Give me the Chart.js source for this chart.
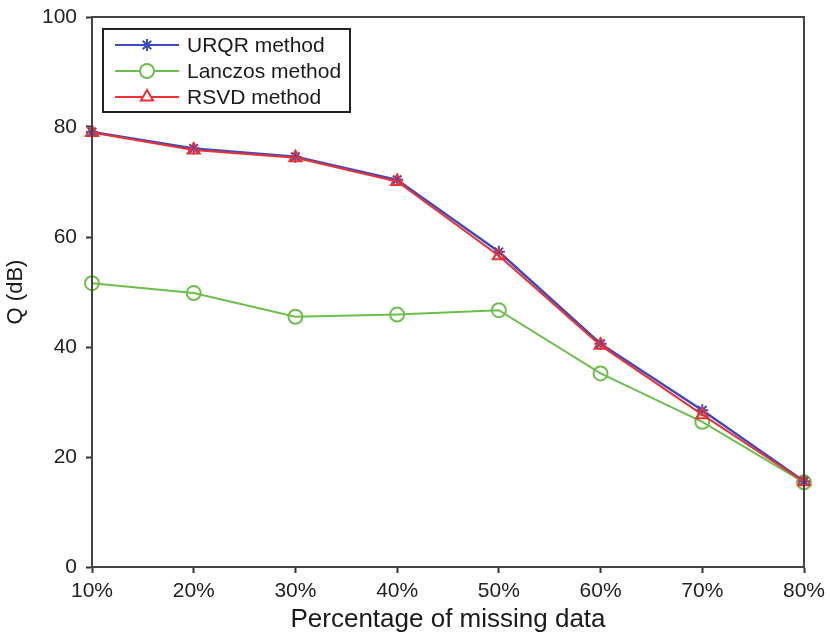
<!DOCTYPE html>
<html>
<head>
<meta charset="utf-8">
<script src="https://cdn.jsdelivr.net/npm/chart.js@4.4.1/dist/chart.umd.min.js"></script>
<style>
  html, body { margin: 0; padding: 0; background: #fff; }
  #wrap { width: 830px; height: 637px; }
</style>
</head>
<body>
<div id="wrap"><canvas id="chartCanva"></canvas></div>
<script>
// categories and series
const categories = ['10%', '20%', '30%', '40%', '50%', '60%', '70%', '80%'];
const urqrValues = [79.1, 76.1, 74.6, 70.4, 57.3, 40.6, 28.5, 15.6];
const lanczosValues = [51.6, 49.8, 45.5, 45.9, 46.7, 35.2, 26.4, 15.4];
const rsvdValues = [79.0, 75.8, 74.4, 70.1, 56.6, 40.3, 27.7, 15.5];
const yTicks = [0, 20, 40, 60, 80, 100];

const fontName = '"Liberation Sans", Arial, sans-serif';

// frame round the plot
const framePlugin = {
    id: 'frame',
    afterDraw(chart) {
        const a = chart.chartArea;
        const ctx = chart.ctx;
        ctx.save();
        ctx.strokeStyle = '#444';
        ctx.lineWidth = 2;
        ctx.strokeRect(a.left, a.top, a.right - a.left, a.bottom - a.top);
        ctx.restore();
    }
};

// boxed legend inside the plot, top left
const boxLegend = {
    id: 'boxLegend',
    afterDraw(chart) {
        const a = chart.chartArea;
        const ctx = chart.ctx;
        const x0 = a.left + 11, y0 = a.top + 12;
        ctx.save();
        ctx.fillStyle = '#fff';
        ctx.fillRect(x0, y0, 247, 83);
        ctx.strokeStyle = '#222';
        ctx.lineWidth = 2;
        ctx.strokeRect(x0, y0, 247, 83);
        chart.data.datasets.forEach(function(ds, i) {
            const yy = y0 + 16 + i * 26;
            ctx.strokeStyle = ds.borderColor;
            ctx.lineWidth = 2;
            ctx.beginPath();
            ctx.moveTo(x0 + 12, yy);
            ctx.lineTo(x0 + 76, yy);
            ctx.stroke();
            ctx.fillStyle = '#fff';
            ctx.strokeStyle = ds.borderColor;
            ctx.lineWidth = ds.pointBorderWidth;
            Chart.helpers.drawPoint(ctx, {
                pointStyle: ds.pointStyle,
                radius: ds.pointRadius,
                borderWidth: ds.pointBorderWidth
            }, x0 + 44, yy);
            ctx.fillStyle = '#1a1a1a';
            ctx.font = '21px ' + fontName;
            ctx.textBaseline = 'middle';
            ctx.textAlign = 'left';
            ctx.fillText(ds.label, x0 + 84, yy + 1);
        });
        ctx.restore();
    }
};

const data = {
    labels: categories,
    datasets: [{
        label: 'URQR method',
        data: urqrValues,
        borderColor: '#3a4cc0',
        backgroundColor: '#3a4cc0',
        pointStyle: 'star',
        pointRadius: 6,
        pointBorderWidth: 2,
        borderWidth: 2.5,
        order: 1
    }, {
        label: 'Lanczos method',
        data: lanczosValues,
        borderColor: '#6cc04a',
        backgroundColor: 'rgba(255,255,255,0)',
        pointStyle: 'circle',
        pointRadius: 7,
        pointBorderWidth: 2,
        borderWidth: 2,
        order: 2
    }, {
        label: 'RSVD method',
        data: rsvdValues,
        borderColor: '#f03030',
        backgroundColor: 'rgba(255,255,255,0)',
        pointStyle: 'triangle',
        pointRadius: 7,
        pointBorderWidth: 2,
        borderWidth: 2,
        order: 0
    }]
};

const config = {
    type: 'line',
    data: data,
    plugins: [framePlugin, boxLegend],
    options: {
        responsive: true,
        maintainAspectRatio: false,
        animation: false,
        layout: {
            padding: { left: 0, right: 26, top: 17, bottom: 0 }
        },
        plugins: {
            legend: { display: false },
            tooltip: { enabled: false }
        },
        scales: {
            x: {
                offset: false,
                grid: {
                    drawOnChartArea: false,
                    tickLength: 6,
                    tickColor: '#333',
                    tickWidth: 2
                },
                border: { color: '#333', width: 2 },
                ticks: {
                    color: '#222',
                    padding: 6,
                    maxRotation: 0,
                    autoSkip: false,
                    font: { family: fontName, size: 21 }
                },
                title: {
                    display: true,
                    text: 'Percentage of missing data',
                    color: '#1a1a1a',
                    padding: { top: 0, bottom: 2 },
                    font: { family: fontName, size: 26 }
                },
                afterFit(scale) {
                    scale.height = 70;
                    scale.paddingLeft = 0;
                    scale.paddingRight = 0;
                }
            },
            y: {
                min: 0,
                max: 100,
                afterBuildTicks(scale) {
                    scale.ticks = yTicks.map(function(v) { return { value: v }; });
                },
                grid: {
                    drawOnChartArea: false,
                    tickLength: 6,
                    tickColor: '#333',
                    tickWidth: 2
                },
                border: { color: '#333', width: 2 },
                ticks: {
                    color: '#222',
                    padding: 9,
                    font: { family: fontName, size: 21 }
                },
                title: {
                    display: true,
                    text: 'Q (dB)',
                    color: '#1a1a1a',
                    padding: { top: 3, bottom: 0 },
                    font: { family: fontName, size: 22 }
                },
                afterFit(scale) {
                    scale.width = 92;
                    scale.paddingTop = 0;
                    scale.paddingBottom = 0;
                }
            }
        }
    }
};

const myChart = new Chart(document.getElementById('chartCanva'), config);
</script>
</body>
</html>
